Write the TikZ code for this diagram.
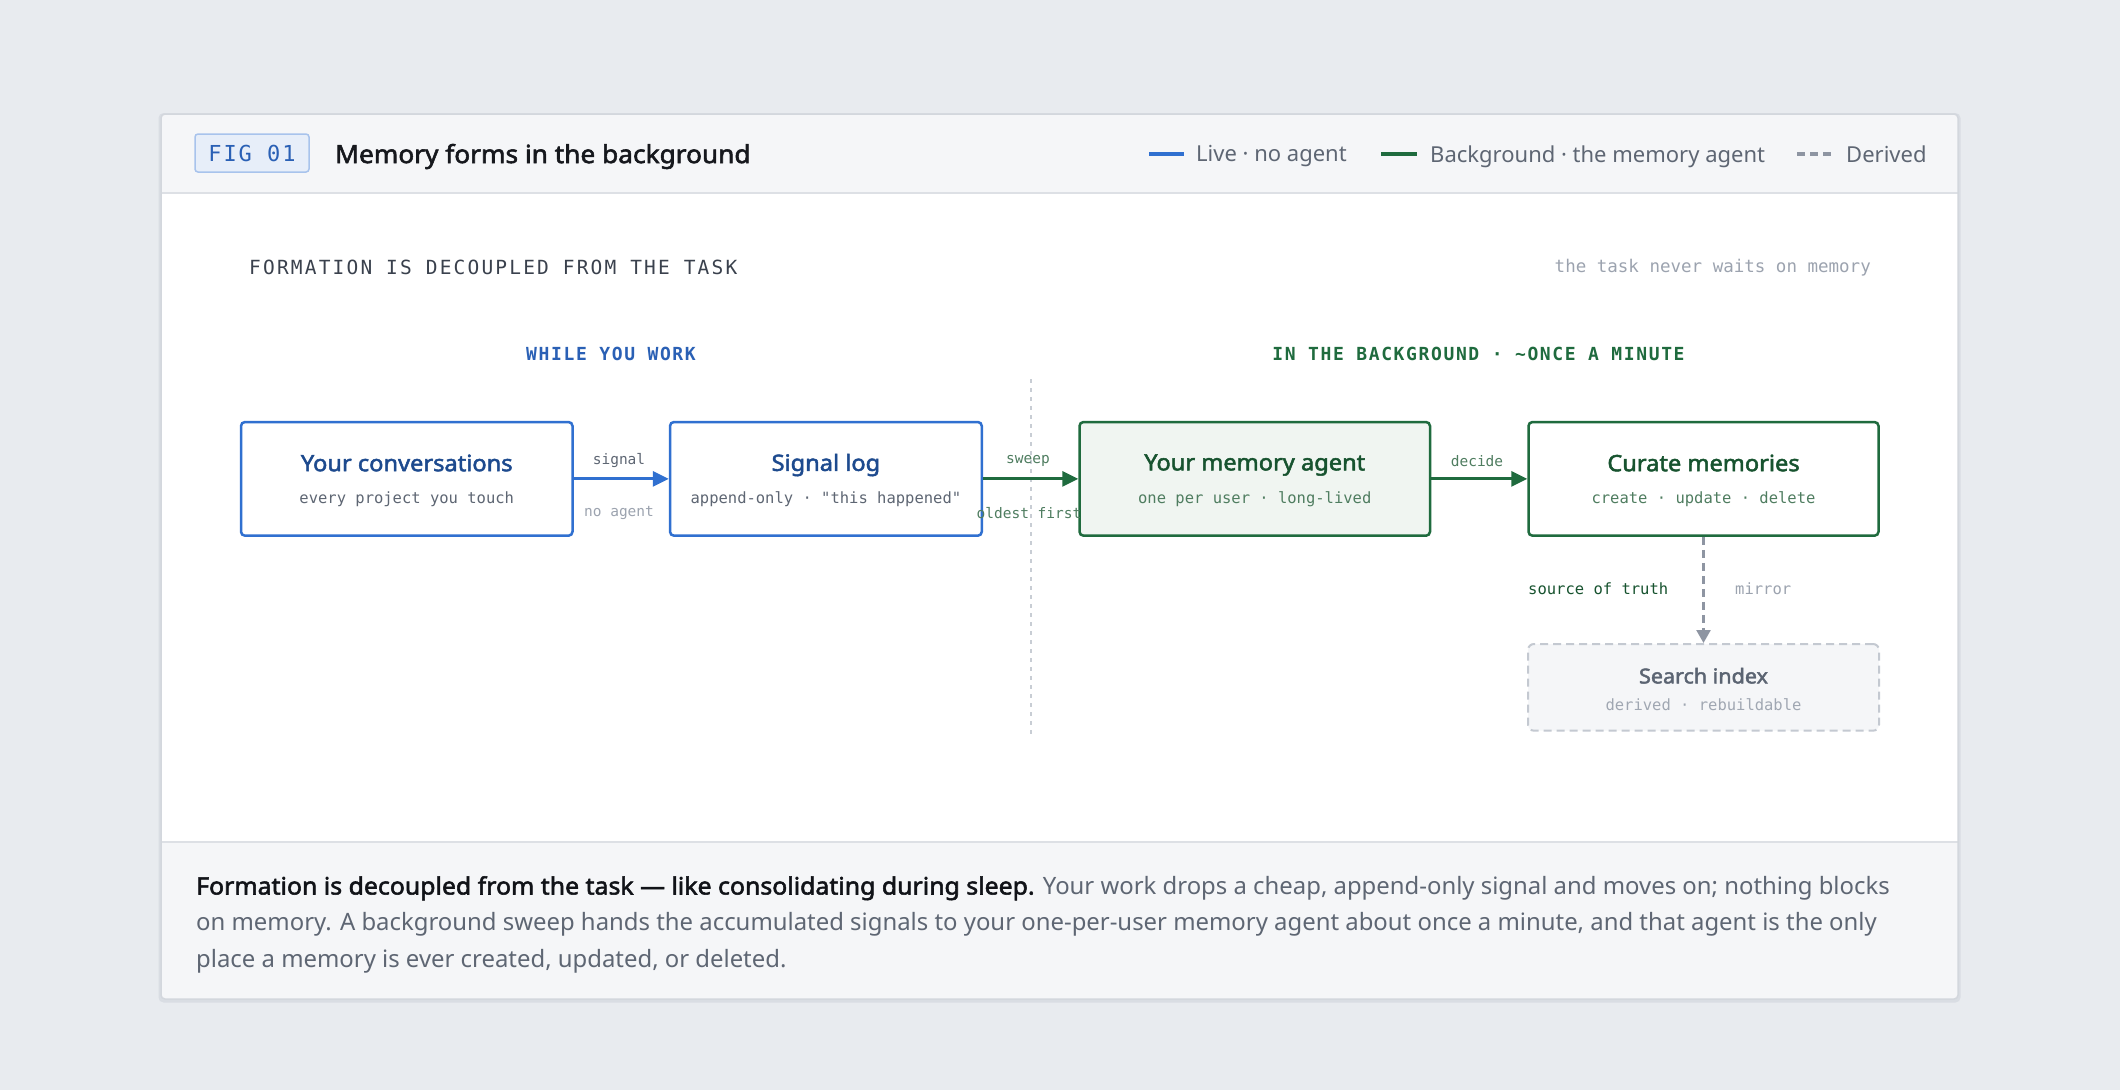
\documentclass[tikz,border=0pt]{standalone}
\usepackage{fontspec}
\setmainfont{Noto Sans}
\newfontfamily\sbold{Noto Sans}[FakeBold=2.2, FakeStretch=1.05]
\newfontfamily\fbold{Noto Sans}[FakeBold=2.2, FakeStretch=1.04]
\newfontfamily\monof{DejaVu Sans Mono}
\newfontfamily\monoa{DejaVu Sans Mono}[LetterSpace=9]
\newfontfamily\monob{DejaVu Sans Mono}[LetterSpace=11.2]
\newfontfamily\monoc{DejaVu Sans Mono}[LetterSpace=9]
\usetikzlibrary{arrows.meta}
\definecolor{bgc}{HTML}{E8EBEF}
\definecolor{shadowc}{HTML}{D9DDE3}
\definecolor{cardborder}{HTML}{D3D7DD}
\definecolor{hdr}{HTML}{F5F6F8}
\definecolor{sepc}{HTML}{DDE0E5}
\definecolor{liveblue}{HTML}{3070D0}
\definecolor{bluetitle}{HTML}{1D4A8E}
\definecolor{blueheading}{HTML}{2A60B5}
\definecolor{badgefill}{HTML}{E7EEF9}
\definecolor{badgeborder}{HTML}{A8C3EC}
\definecolor{greenline}{HTML}{1F6B3E}
\definecolor{greentitle}{HTML}{17532F}
\definecolor{greensub}{HTML}{4F7D60}
\definecolor{greenfill}{HTML}{F0F5F1}
\definecolor{greyline}{HTML}{8E95A2}
\definecolor{greytext}{HTML}{5E6673}
\definecolor{lighttext}{HTML}{9CA3AF}
\definecolor{darktitle}{HTML}{16181D}
\definecolor{sectitle}{HTML}{3A414D}
\definecolor{footbold}{HTML}{111318}
\definecolor{divc}{HTML}{C8CDD4}
\definecolor{searchborder}{HTML}{C4C9D1}
\definecolor{searchtitle}{HTML}{5B6472}
\definecolor{searchsub}{HTML}{A0A7B2}
\tikzset{
  boxbase/.style={rounded corners=4, line width=2.5, inner sep=0, minimum height=113.7},
  livebox/.style={boxbase, draw=liveblue, fill=white},
  bgbox/.style={boxbase, draw=greenline, fill=white},
  agentbox/.style={boxbase, draw=greenline, fill=greenfill},
  searchbox/.style={rounded corners=6, line width=2, draw=searchborder, fill=hdr, dash pattern=on 8 off 5, inner sep=0, minimum height=86.7, minimum width=351},
  bluett/.style={font=\sbold\fontsize{22.5}{27}\selectfont, text=bluetitle, inner sep=0},
  greentt/.style={font=\sbold\fontsize{22.5}{27}\selectfont, text=greentitle, inner sep=0},
  greysub/.style={font=\monof\fontsize{15.5}{18}\selectfont, text=greytext, inner sep=0},
  greensubt/.style={font=\monof\fontsize{15.5}{18}\selectfont, text=greensub, inner sep=0},
  lbl/.style={font=\monof\fontsize{14.5}{17}\selectfont, inner sep=0},
  livearrow/.style={draw=liveblue, line width=2.8, -{Triangle[length=16pt,width=15pt]}},
  bgarrow/.style={draw=greenline, line width=2.8, -{Triangle[length=16pt,width=15pt]}},
  derivedarrow/.style={draw=greyline, line width=2.5, dash pattern=on 8 off 5, -{Triangle[length=13pt,width=14pt]}},
  foot/.style={font=\fontsize{23.9}{28}\selectfont, text=greytext, inner sep=0, anchor=base west},
  legtxt/.style={font=\fontsize{22}{26}\selectfont, text=greytext, anchor=west, inner sep=0},
}
\begin{document}
\begin{tikzpicture}[x=1pt,y=-1pt]
\useasboundingbox (0,0) rectangle (2120,1090);
\fill[bgc] (0,0) rectangle (2120,1090);
% card
\fill[shadowc, rounded corners=5] (158.5,113) rectangle (1960.5,1002.5);
\begin{scope}
  \clip[rounded corners=4] (161,114) rectangle (1958,999);
  \fill[white] (161,114) rectangle (1958,999);
  \fill[hdr] (161,114) rectangle (1958,193);
  \fill[hdr] (161,841.5) rectangle (1958,999);
\end{scope}
\coordinate (hl1) at (161,193);
\coordinate (hl2) at (1958,193);
\coordinate (fl1) at (161,841.5);
\coordinate (fl2) at (1958,841.5);
\draw[sepc, line width=2] (hl1) -- (hl2);
\draw[sepc, line width=2] (fl1) -- (fl2);
\draw[cardborder, line width=1.5, rounded corners=4] (161,114) rectangle (1958,999);

% header
\node[draw=badgeborder, fill=badgefill, line width=1.5, rounded corners=3, minimum width=114, minimum height=38, inner sep=0] (badge) at (252,153) {};
\node[font=\monoa\fontsize{22}{26}\selectfont, text=blueheading, inner sep=0] (badgetxt) at (badge.center) {FIG 01};
\node[font=\sbold\fontsize{25}{30}\selectfont, text=darktitle, anchor=west, inner sep=0] (title) at (335,156.5) {Memory forms in the background};

% legend
\coordinate (lg1a) at (1149,154); \coordinate (lg1b) at (1184,154);
\coordinate (lg2a) at (1381,154); \coordinate (lg2b) at (1417,154);
\coordinate (lg3a) at (1797,154); \coordinate (lg3b) at (1833,154);
\draw[liveblue, line width=3.3] (lg1a) -- (lg1b);
\draw[greenline, line width=3.3] (lg2a) -- (lg2b);
\draw[greyline, line width=3.3, dash pattern=on 8 off 5] (lg3a) -- (lg3b);
\node[legtxt] (lgt1) at (1196,156.5) {Live · no agent};
\node[legtxt] (lgt2) at (1430,156.5) {Background · the memory agent};
\node[legtxt] (lgt3) at (1846,154) {Derived};

% section titles
\node[font=\monob\fontsize{19.5}{23}\selectfont, text=sectitle, anchor=west, inner sep=0] (sect) at (249,267) {FORMATION IS DECOUPLED FROM THE TASK};
\node[font=\monof\fontsize{17.5}{21}\selectfont, text=lighttext, anchor=east, inner sep=0] (note) at (1871,268) {the task never waits on memory};
\node[font=\monoc\fontsize{18}{22}\selectfont\bfseries, text=blueheading, inner sep=0] (h1) at (611,354) {WHILE YOU WORK};
\node[font=\monoc\fontsize{18}{22}\selectfont\bfseries, text=greenline, inner sep=0] (h2) at (1478.5,354) {IN THE BACKGROUND · \textasciitilde ONCE A MINUTE};

% divider
\coordinate (dvt) at (1030.5,379);
\coordinate (dvb) at (1030.5,737);
\draw[divc, line width=2, dash pattern=on 4 off 5] (dvt) -- (dvb);

% boxes
\node[livebox, minimum width=331.5] (b1) at (406.75,478.85) {};
\node[livebox, minimum width=311.8] (b2) at (825.9,478.85) {};
\node[agentbox, minimum width=350.5] (b3) at (1254.75,478.85) {};
\node[bgbox, minimum width=350] (b4) at (1703.5,478.85) {};
\node[searchbox] (b5) at (1703.5,687.35) {};

\node[bluett] (t1) at (406.75,463) {Your conversations};
\node[greysub] (s1) at (406.75,499) {every project you touch};
\node[bluett] (t2) at (825.9,465) {Signal log};
\node[greysub] (s2) at (825.9,499) {append-only · "this happened"};
\node[greentt] (t3) at (1254.75,465) {Your memory agent};
\node[greensubt] (s3) at (1254.75,499) {one per user · long-lived};
\node[greentt] (t4) at (1703.5,463) {Curate memories};
\node[greensubt] (s4) at (1703.5,499) {create · update · delete};
\node[font=\sbold\fontsize{20.5}{25}\selectfont, text=searchtitle, inner sep=0] (t5) at (1703.5,675.7) {Search index};
\node[font=\monof\fontsize{15.5}{18}\selectfont, text=searchsub, inner sep=0] (s5) at (1703.5,705) {derived · rebuildable};

% connectors
\draw[livearrow] (b1.east) -- (b2.west);
\draw[bgarrow] (b2.east) -- (b3.west);
\draw[bgarrow] (b3.east) -- (b4.west);
\draw[derivedarrow] (b4.south) -- (b5.north);

% arrow labels
\node[lbl, text=greytext] (l1a) at (619,460.7) {signal};
\node[lbl, text=lighttext] (l1b) at (619,513) {no agent};
\node[lbl, text=greensub] (l2a) at (1028,460.7) {sweep};
\node[lbl, text=greensub] (l2b) at (1029,513) {oldest first};
\node[lbl, text=greensub] (l3a) at (1477,460.7) {decide};

\node[font=\monof\fontsize{15.5}{18}\selectfont, text=greentitle, anchor=west, inner sep=0] (sot) at (1528,589) {source of truth};
\node[font=\monof\fontsize{15.5}{18}\selectfont, text=lighttext, anchor=west, inner sep=0] (mir) at (1735,589) {mirror};

% footer
\node[foot] (f1) at (196,894.5) {\textcolor{footbold}{\fbold Formation is decoupled from the task — like consolidating during sleep.} Your work drops a cheap, append-only signal and moves on; nothing blocks};
\node[foot] (f2) at (196,930.5) {on memory. A background sweep hands the accumulated signals to your one-per-user memory agent about once a minute, and that agent is the only};
\node[foot] (f3) at (196,967) {place a memory is ever created, updated, or deleted.};
\end{tikzpicture}
\end{document}
